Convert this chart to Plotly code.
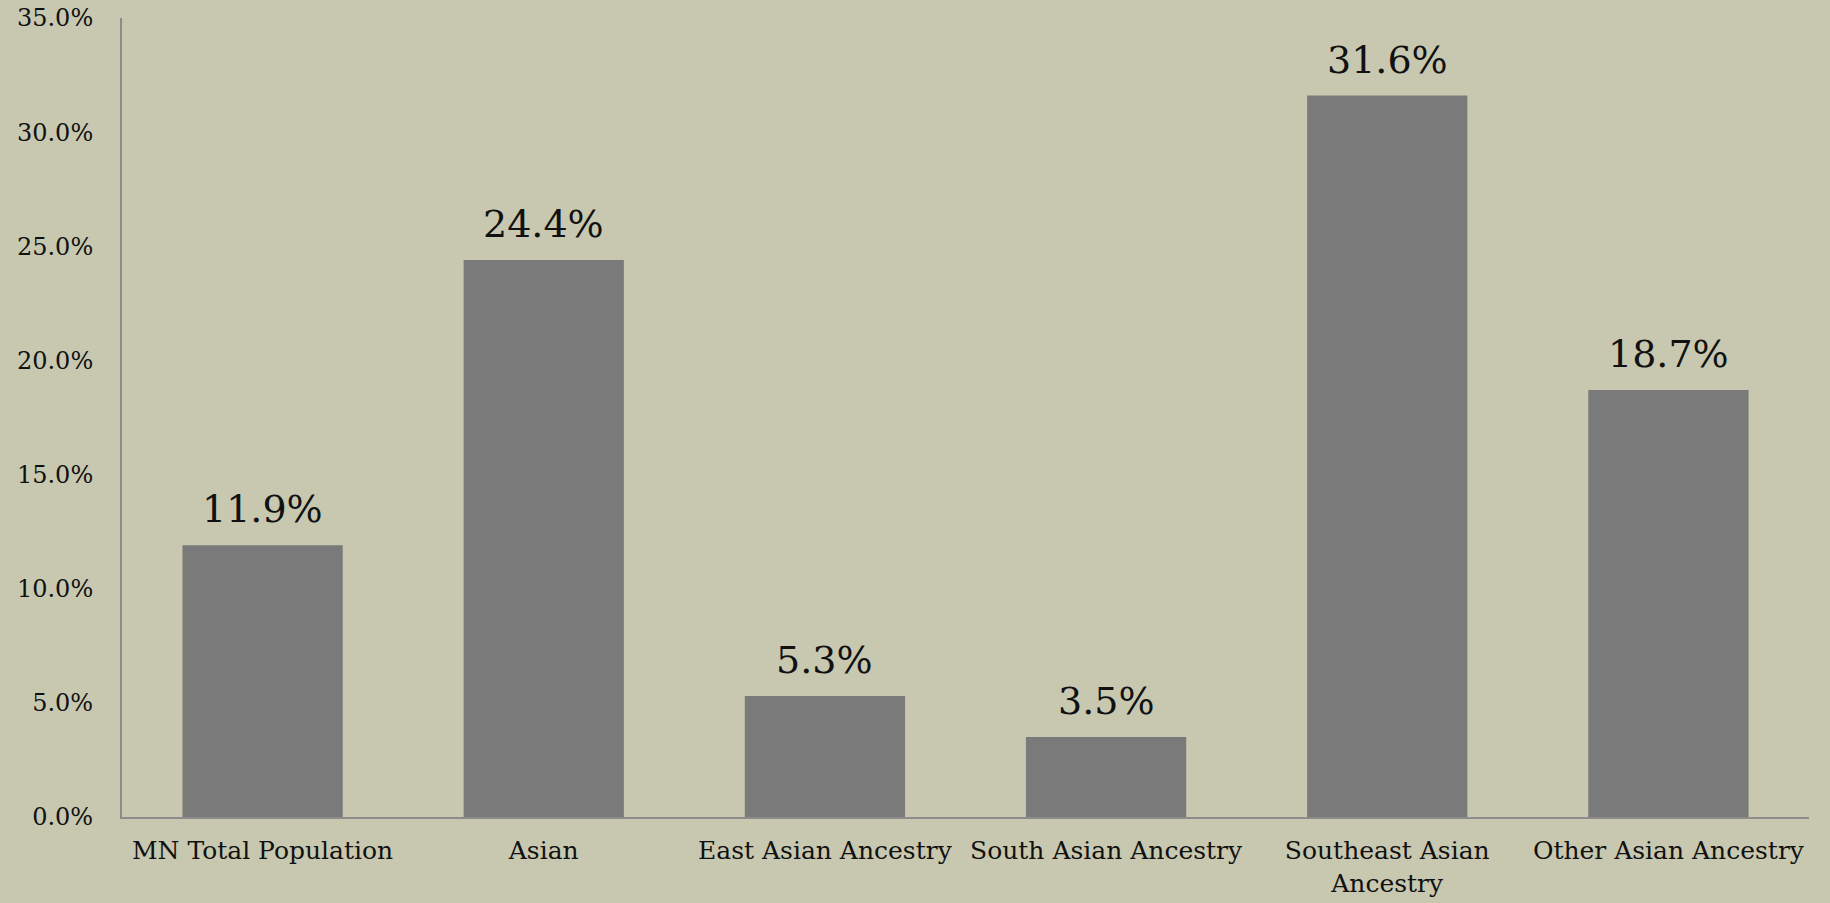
import plotly.graph_objects as go

categories = ["MN Total Population", "Asian", "East Asian Ancestry", "South Asian Ancestry",
              "Southeast Asian<br>Ancestry", "Other Asian Ancestry"]
values = [11.9, 24.4, 5.3, 3.5, 31.6, 18.7]
tick_vals = [0, 5, 10, 15, 20, 25, 30, 35]
tick_text = [f"{v:.1f}%" for v in tick_vals]
labels = [f"{v:.1f}%" for v in values]

font_family = "DejaVu Serif"
bg = "#C8C8B0"

fig = go.Figure(go.Bar(
    x=categories, y=values, marker_color="#7A7A7A", marker_line_width=0,
))

for c, v, t in zip(categories, values, labels):
    fig.add_annotation(x=c, y=v, text=t, showarrow=False, yanchor="bottom",
                       yshift=12, font=dict(family=font_family, size=38, color="#111111"))

fig.update_layout(
    width=1830, height=903,
    paper_bgcolor=bg, plot_bgcolor=bg,
    margin=dict(l=122, r=21, t=18, b=86),
    bargap=0.43,
    showlegend=False,
    font=dict(family=font_family, color="#111111"),
)
fig.update_xaxes(
    showline=True, linecolor="#8C8C8C", linewidth=2,
    tickfont=dict(family=font_family, size=25, color="#111111"),
    ticks="", showgrid=False, ticklabelstandoff=10, automargin=False,
)
fig.update_yaxes(
    range=[0, 35], tickvals=tick_vals, ticktext=tick_text,
    showline=True, linecolor="#8C8C8C", linewidth=2,
    showgrid=False, zeroline=False, ticks="",
    tickfont=dict(family=font_family, size=24, color="#111111"),
    ticklabelstandoff=22, automargin=False,
)

fig.write_html("out.html", config={"displayModeBar": False},
               post_script="document.body.style.margin='0';document.body.style.background='%s';" % bg)
